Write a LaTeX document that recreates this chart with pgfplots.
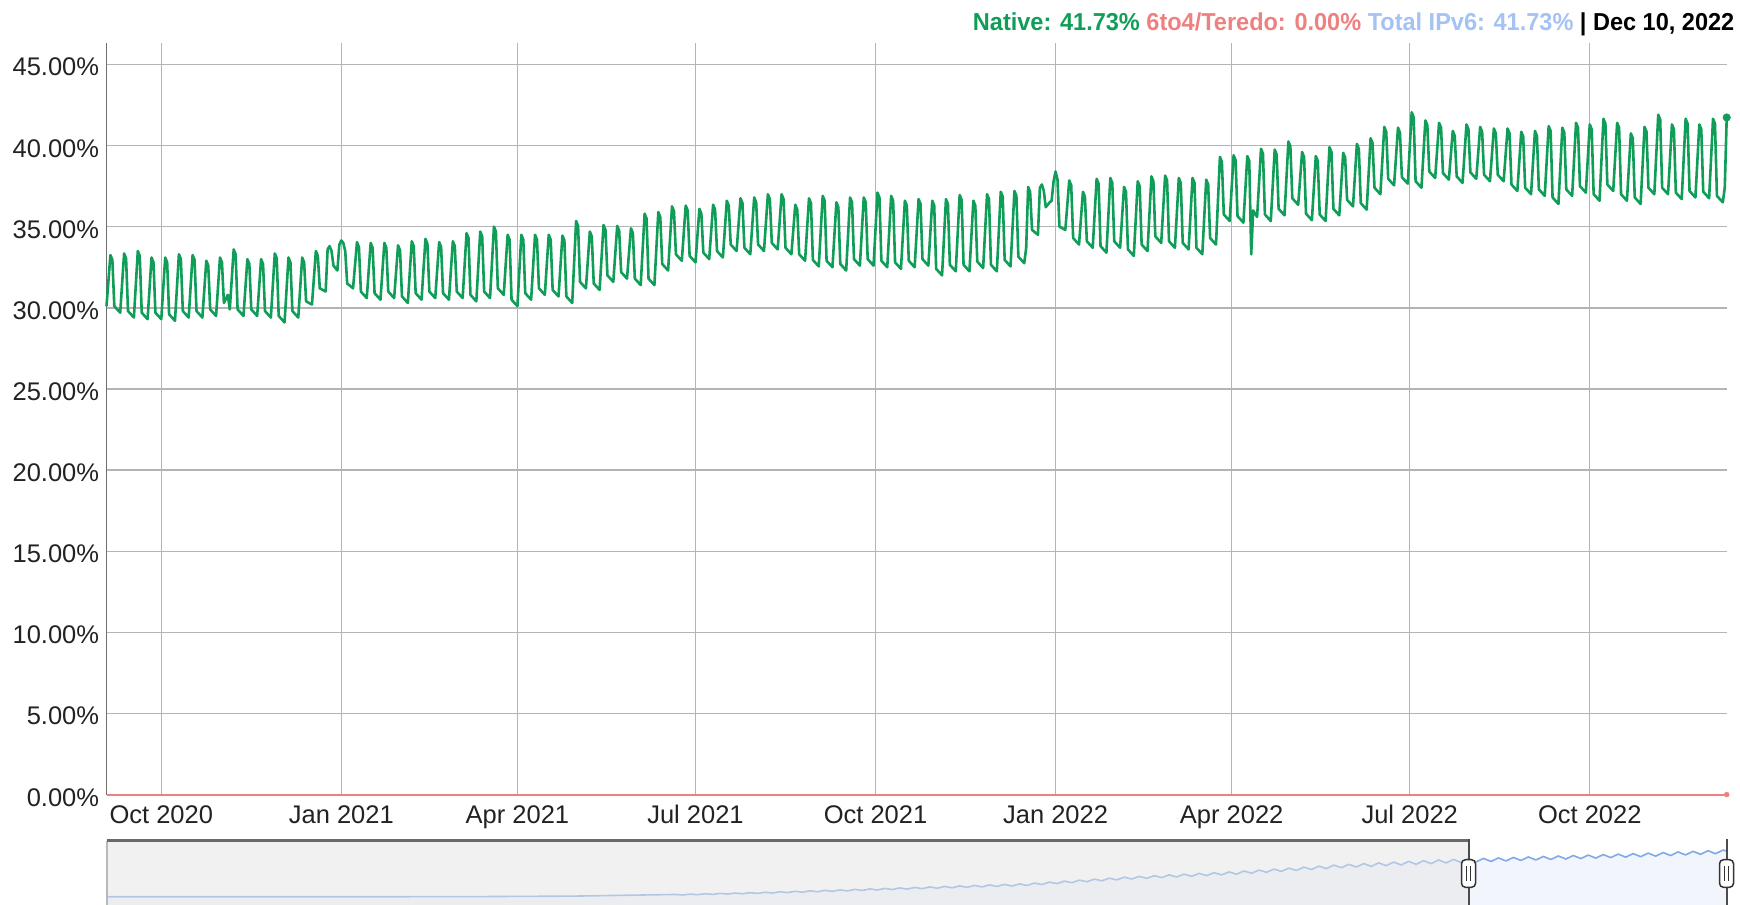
\documentclass[border=0pt]{standalone}
\usepackage{pgfplots}
\usepackage{pgfplotstable}
\pgfplotsset{compat=1.18}
\usepackage{fontspec}
\setmainfont{Liberation Sans}
\newfontfamily\legfont[FakeStretch=0.96]{Liberation Sans}
\definecolor{native}{HTML}{0F9D58}
\definecolor{teredo}{HTML}{EE8080}
\definecolor{totalv6}{HTML}{A4C2F4}
\definecolor{gridc}{HTML}{B4B4B4}
\definecolor{axisc}{HTML}{6E6E6E}
\definecolor{tickc}{HTML}{222222}
\definecolor{navline}{HTML}{7FAAE6}
\definecolor{navshade}{HTML}{E4E4E4}
\definecolor{navborder}{HTML}{6A6A6A}

\pgfplotstableread{
x y
-4396 0.2
-4000 0.2
-3600 0.25
-3250 0.3
-2900 0.8
-2572 2.3
-2548 1.84
-2524 2.62
-2500 2.12
-2476 2.96
-2452 2.40
-2428 3.28
-2404 2.69
-2380 3.62
-2356 2.96
-2332 3.94
-2308 3.27
-2284 4.34
-2260 3.64
-2236 4.77
-2212 4.02
-2188 5.19
-2164 4.40
-2140 5.63
-2116 4.78
-2092 6.05
-2068 5.16
-2044 6.48
-2020 5.55
-1996 6.94
-1972 5.96
-1948 7.38
-1924 6.37
-1900 7.84
-1876 6.76
-1852 8.28
-1828 7.17
-1804 8.73
-1780 7.56
-1756 9.19
-1732 7.97
-1708 9.64
-1684 8.38
-1660 10.10
-1636 8.78
-1612 10.55
-1588 9.19
-1564 11.00
-1540 9.59
-1516 11.46
-1492 10.00
-1468 11.91
-1444 10.49
-1420 12.66
-1396 11.33
-1372 13.55
-1348 12.18
-1324 14.44
-1300 13.02
-1276 15.35
-1252 13.87
-1228 16.24
-1204 14.72
-1180 17.14
-1156 15.56
-1132 18.03
-1108 16.38
-1084 18.77
-1060 16.99
-1036 19.44
-1012 17.62
-988 20.11
-964 18.24
-940 20.78
-916 18.86
-892 21.45
-868 19.48
-844 22.11
-820 20.10
-796 22.79
-772 20.76
-748 23.61
-724 21.61
-700 24.51
-676 22.46
-652 25.40
-628 23.31
-604 26.29
-580 24.15
-556 27.19
-532 25.00
-508 28.09
-484 25.85
-460 28.99
-436 26.65
-412 29.72
-388 27.28
-364 30.39
-340 27.89
-316 31.06
-292 28.52
-268 31.73
-244 29.14
-220 32.40
-196 29.76
-172 33.07
-148 30.39
-124 33.71
-100 30.99
-76 34.21
-52 31.43
-28 34.65
-4 31.87
20 35.09
44 32.31
68 35.54
92 32.76
116 35.98
140 33.21
164 36.43
188 33.65
212 36.87
236 34.09
260 37.30
284 34.52
308 37.73
332 34.95
356 38.16
380 35.38
404 38.59
428 35.81
452 39.02
476 36.24
500 39.45
524 36.67
548 39.88
572 37.13
596 40.41
620 37.69
644 40.97
668 38.25
692 41.53
716 38.81
740 42.09
764 39.37
788 42.65
800 41.70
}\navdata

\begin{document}
\begin{tikzpicture}
\useasboundingbox (0bp,0bp) rectangle (1740bp,905bp);

\begin{axis}[
  at={(106.5bp,110.4bp)}, anchor=south west,
  scale only axis, width=1620.2bp, height=751.6bp,
  xmin=-28, xmax=800, ymin=0, ymax=46.32,
  axis x line=bottom, axis y line=left,
  axis line style={-, draw=axisc, line width=1.5bp},
  xtick={0,92,182,273,365,457,547,638,730},
  xticklabels={Oct 2020,Jan 2021,Apr 2021,Jul 2021,Oct 2021,Jan 2022,Apr 2022,Jul 2022,Oct 2022},
  ytick={0,5,10,15,20,25,30,35,40,45},
  yticklabels={0.00\%,5.00\%,10.00\%,15.00\%,20.00\%,25.00\%,30.00\%,35.00\%,40.00\%,45.00\%},
  major tick length=0pt,
  grid=major, grid style={draw=gridc, line width=1.4bp},
  tick label style={font=\fontsize{25.5bp}{30bp}\selectfont, text=tickc, inner sep=0pt},
  xticklabel style={anchor=base, yshift=-28.7bp},
  yticklabel style={anchor=base east, xshift=-7.2bp, yshift=-11.5bp},
  clip=false,
]
\addplot[teredo, line width=2bp] coordinates {(-28,0) (800,0)};
\addplot[native, line width=2.6bp, line join=round] coordinates {
(-28,30.1) (-26,33.25) (-25,32.95) (-24,30.1) (-21,29.7)
(-19,33.35) (-18,33.05) (-17,29.8) (-14,29.4)
(-12,33.5) (-11,33.2) (-10,29.7) (-7,29.3)
(-5,33.1) (-4,32.8) (-3,29.7) (0,29.3)
(2,33.1) (3,32.8) (4,29.6) (7,29.2)
(9,33.3) (10,33.0) (11,29.8) (14,29.4)
(16,33.25) (17,32.95) (18,29.8) (21,29.4)
(23,32.9) (24,32.6) (25,29.9) (28,29.5)
(30,33.1) (31,32.8) (32,30.3) (34,30.8) (35,29.9)
(37,33.6) (38,33.3) (39,29.9) (42,29.5)
(44,33.0) (45,32.7) (46,29.9) (49,29.5)
(51,33.0) (52,32.7) (53,29.8) (56,29.4)
(58,33.35) (59,33.05) (60,29.5) (63,29.1)
(65,33.1) (66,32.8) (67,29.8) (70,29.4)
(72,33.1) (73,32.8) (74,30.4) (77,30.2)
(79,33.5) (80,33.2) (81,31.2) (84,31.0)
(85,33.6) (86,33.8) (87,33.5) (88,32.6) (90,32.3)
(91,33.9) (92,34.15) (93,34.0) (94,33.5) (95,31.5) (98,31.2)
(100,34.05) (101,33.75) (102,31.0) (105,30.6)
(107,34.0) (108,33.7) (109,30.9) (112,30.5)
(114,34.0) (115,33.7) (116,31.0) (119,30.6)
(121,33.85) (122,33.55) (123,30.7) (126,30.3)
(128,34.1) (129,33.8) (130,30.9) (133,30.5)
(135,34.25) (136,33.95) (137,31.0) (140,30.6)
(142,34.05) (143,33.75) (144,30.9) (147,30.5)
(149,34.1) (150,33.8) (151,31.0) (154,30.6)
(156,34.6) (157,34.3) (158,30.8) (161,30.4)
(163,34.7) (164,34.4) (165,31.0) (168,30.6)
(170,35.0) (171,34.7) (172,31.2) (175,30.8)
(177,34.5) (178,34.2) (179,30.5) (182,30.1)
(184,34.5) (185,34.2) (186,30.9) (189,30.5)
(191,34.5) (192,34.2) (193,31.2) (196,30.8)
(198,34.5) (199,34.2) (200,31.1) (203,30.7)
(205,34.45) (206,34.15) (207,30.7) (210,30.3)
(212,35.35) (213,35.05) (214,31.6) (217,31.2)
(219,34.7) (220,34.4) (221,31.5) (224,31.1)
(226,35.1) (227,34.8) (228,32.0) (231,31.6)
(233,35.05) (234,34.75) (235,32.2) (238,31.8)
(240,34.9) (241,34.6) (242,31.8) (245,31.4)
(247,35.8) (248,35.5) (249,31.8) (252,31.4)
(254,35.9) (255,35.6) (256,32.7) (259,32.3)
(261,36.25) (262,35.95) (263,33.3) (266,32.9)
(268,36.3) (269,36.0) (270,33.2) (273,32.8)
(275,36.1) (276,35.8) (277,33.4) (280,33.0)
(282,36.35) (283,36.05) (284,33.5) (287,33.1)
(289,36.6) (290,36.3) (291,33.9) (294,33.5)
(296,36.75) (297,36.45) (298,33.7) (301,33.3)
(303,36.8) (304,36.5) (305,33.9) (308,33.5)
(310,37.0) (311,36.7) (312,34.0) (315,33.6)
(317,37.0) (318,36.7) (319,33.7) (322,33.3)
(324,36.35) (325,36.05) (326,33.3) (329,32.9)
(331,36.75) (332,36.45) (333,32.95) (336,32.55)
(338,36.9) (339,36.6) (340,32.9) (343,32.5)
(345,36.5) (346,36.2) (347,32.7) (350,32.3)
(352,36.8) (353,36.5) (354,33.0) (357,32.6)
(359,36.8) (360,36.5) (361,33.0) (364,32.6)
(366,37.1) (367,36.8) (368,32.9) (371,32.5)
(373,36.9) (374,36.6) (375,32.8) (378,32.4)
(380,36.6) (381,36.3) (382,32.9) (385,32.5)
(387,36.7) (388,36.4) (389,33.0) (392,32.6)
(394,36.6) (395,36.3) (396,32.4) (399,32.0)
(401,36.7) (402,36.4) (403,32.65) (406,32.25)
(408,36.95) (409,36.65) (410,32.65) (413,32.25)
(415,36.6) (416,36.3) (417,32.85) (420,32.45)
(422,37.0) (423,36.7) (424,32.65) (427,32.25)
(429,37.15) (430,36.85) (431,32.95) (434,32.55)
(436,37.2) (437,36.9) (438,33.15) (441,32.75) (442,33.7)
(443,37.45) (444,37.15) (445,34.8) (448,34.5)
(449,37.4) (450,37.6) (451,37.2) (452,36.2) (454,36.5)
(455,36.6) (456,37.8) (457,38.4) (458,37.9) (459,35.0) (462,34.8)
(464,37.85) (465,37.55) (466,34.3) (469,33.9)
(471,37.15) (472,36.85) (473,34.1) (476,33.7)
(478,37.95) (479,37.65) (480,33.8) (483,33.4)
(485,38.0) (486,37.7) (487,34.1) (490,33.7)
(492,37.45) (493,37.15) (494,33.6) (497,33.2)
(499,37.8) (500,37.5) (501,33.9) (504,33.5)
(506,38.1) (507,37.8) (508,34.4) (511,34.0)
(513,38.15) (514,37.85) (515,34.1) (518,33.7)
(520,38.0) (521,37.7) (522,34.0) (525,33.6)
(527,38.0) (528,37.7) (529,33.7) (532,33.3)
(534,37.9) (535,37.6) (536,34.3) (539,33.9)
(541,39.3) (542,39.0) (543,35.75) (546,35.35)
(548,39.4) (549,39.1) (550,35.65) (553,35.25)
(555,39.35) (556,39.05) (557,33.3) (558,36.0) (560,35.6)
(562,39.8) (563,39.5) (564,35.75) (567,35.35)
(569,39.75) (570,39.45) (571,36.1) (574,35.7)
(576,40.25) (577,39.95) (578,36.75) (581,36.35)
(583,39.6) (584,39.3) (585,35.8) (588,35.4)
(590,39.35) (591,39.05) (592,35.75) (595,35.35)
(597,39.9) (598,39.6) (599,36.1) (602,35.7)
(604,39.55) (605,39.25) (606,36.65) (609,36.25)
(611,40.1) (612,39.8) (613,36.45) (616,36.05)
(618,40.45) (619,40.15) (620,37.4) (623,37.0)
(625,41.15) (626,40.85) (627,37.95) (630,37.55)
(632,41.1) (633,40.8) (634,38.05) (637,37.65)
(639,42.05) (640,41.75) (641,37.8) (644,37.4)
(646,41.55) (647,41.25) (648,38.4) (651,38.0)
(653,41.4) (654,41.1) (655,38.3) (658,37.9)
(660,40.9) (661,40.6) (662,38.1) (665,37.7)
(667,41.3) (668,41.0) (669,38.35) (672,37.95)
(674,41.15) (675,40.85) (676,38.2) (679,37.8)
(681,41.05) (682,40.75) (683,38.2) (686,37.8)
(688,41.05) (689,40.75) (690,37.6) (693,37.2)
(695,40.85) (696,40.55) (697,37.4) (700,37.0)
(702,40.9) (703,40.6) (704,37.3) (707,36.9)
(709,41.2) (710,40.9) (711,36.8) (714,36.4)
(716,41.1) (717,40.8) (718,37.3) (721,36.9)
(723,41.4) (724,41.1) (725,37.5) (728,37.1)
(730,41.3) (731,41.0) (732,37.0) (735,36.6)
(737,41.65) (738,41.35) (739,37.6) (742,37.2)
(744,41.4) (745,41.1) (746,37.0) (749,36.6)
(751,40.75) (752,40.45) (753,36.8) (756,36.4)
(758,41.15) (759,40.85) (760,37.4) (763,37.0)
(765,41.9) (766,41.6) (767,37.4) (770,37.0)
(772,41.3) (773,41.0) (774,37.1) (777,36.7)
(779,41.65) (780,41.35) (781,37.2) (784,36.8)
(786,41.3) (787,41.0) (788,37.15) (791,36.75)
(793,41.65) (794,41.35) (795,36.9) (798,36.5) (799,37.4) (800,41.73)
};
\addplot[only marks, mark=*, mark size=3.8bp, native] coordinates {(800,41.73)};
\addplot[only marks, mark=*, mark size=2.5bp, teredo] coordinates {(800,0)};
\end{axis}

% navigator
\begin{axis}[
  at={(106.5bp,0bp)}, anchor=south west,
  scale only axis, width=1620.2bp, height=65bp,
  xmin=-4396, xmax=800, ymin=-7.27, ymax=51.82,
  hide axis, clip=true,
]
\addplot[draw=none, fill=navline, fill opacity=0.1, forget plot] table[x=x,y=y] {\navdata} -- (axis cs:800,-8) -- (axis cs:-4396,-8) -- cycle;
\addplot[navline, line width=1.6bp, line join=round] table[x=x,y=y] {\navdata};
\end{axis}

% navigator frame and handles
\fill[navshade, opacity=0.5] (106.5bp,0bp) rectangle (1468.5bp,65bp);
\draw[gray!55, line width=1.2bp] (107bp,0bp) -- (107bp,64bp);
\draw[navborder, line width=3bp] (106.5bp,64bp) -- (1468.5bp,64bp);
\draw[black!70, line width=2bp] (1468.5bp,0bp) -- (1468.5bp,65.5bp);
\draw[black!70, line width=2bp] (1726.5bp,0bp) -- (1726.5bp,65.5bp);
\draw[fill=white, draw=black!80, line width=1.5bp, rounded corners=4bp] (1461.5bp,17.7bp) rectangle (1475.5bp,45.3bp);
\draw[black!80, line width=1bp] (1466.5bp,24bp) -- (1466.5bp,39bp) (1470.5bp,24bp) -- (1470.5bp,39bp);
\draw[fill=white, draw=black!80, line width=1.5bp, rounded corners=4bp] (1719.5bp,17.7bp) rectangle (1733.5bp,45.3bp);
\draw[black!80, line width=1bp] (1724.5bp,24bp) -- (1724.5bp,39bp) (1728.5bp,24bp) -- (1728.5bp,39bp);

% top status line
\node[anchor=base east, inner sep=0pt] at (1734.5bp,874.3bp) {\legfont\bfseries\fontsize{24.5bp}{29bp}\selectfont\textcolor{native}{Native: 41.73\%} \textcolor{teredo}{6to4/Teredo: 0.00\%} \textcolor{totalv6}{Total IPv6: 41.73\%} | Dec 10, 2022};
\end{tikzpicture}
\end{document}
